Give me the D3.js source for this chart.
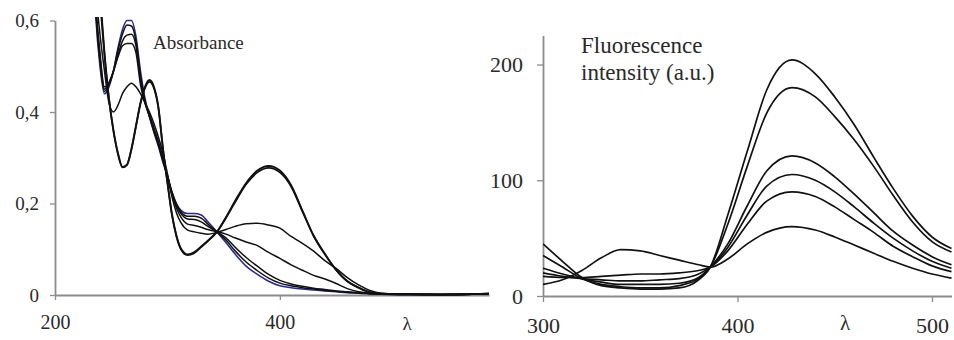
<!DOCTYPE html>
<html>
<head>
<meta charset="utf-8">
<script src="https://cdn.jsdelivr.net/npm/d3@7"></script>
<style>
body{margin:0;background:#fff;}
svg{display:block;}
text{font-family:"Times New Roman",Times,"Liberation Serif",serif;}
</style>
</head>
<body>
<svg id="canvas" width="954" height="340"></svg>
<script>
// absorbance spectra (left)
let absLam=[232,236,240,244,248,252,256,260,264,268,272,276,280,284,288,292,296,300,304,308,312,318,324,330,336,344,352,360,370,380,390,400,410,420,430,440,450,460,470,480,490,510,540,586];
let abs1=[0.85,0.62,0.50,0.44,0.455,0.49,0.54,0.58,0.60,0.60,0.565,0.49,0.43,0.39,0.355,0.325,0.29,0.26,0.225,0.20,0.185,0.178,0.178,0.175,0.16,0.138,0.115,0.09,0.063,0.045,0.03,0.02,0.016,0.013,0.011,0.009,0.007,0.005,0.004,0.003,0.002,0.001,0.001,0.003];
let abs2=[0.86,0.63,0.51,0.445,0.46,0.49,0.535,0.57,0.59,0.588,0.555,0.48,0.425,0.39,0.358,0.328,0.293,0.26,0.225,0.198,0.182,0.172,0.172,0.168,0.155,0.138,0.12,0.097,0.072,0.053,0.037,0.026,0.02,0.016,0.013,0.01,0.008,0.006,0.004,0.003,0.002,0.001,0.001,0.003];
let abs3=[0.87,0.64,0.52,0.45,0.462,0.488,0.525,0.555,0.568,0.57,0.545,0.47,0.42,0.39,0.36,0.33,0.295,0.26,0.222,0.195,0.178,0.166,0.165,0.16,0.15,0.138,0.125,0.105,0.082,0.063,0.045,0.032,0.024,0.019,0.015,0.012,0.009,0.007,0.005,0.003,0.002,0.001,0.001,0.003];
let abs4=[0.88,0.65,0.53,0.455,0.465,0.49,0.52,0.545,0.55,0.55,0.53,0.46,0.42,0.395,0.365,0.335,0.30,0.26,0.22,0.19,0.17,0.155,0.152,0.148,0.143,0.138,0.133,0.125,0.116,0.108,0.093,0.08,0.066,0.054,0.043,0.035,0.025,0.014,0.007,0.004,0.002,0.001,0.001,0.003];
let abs5=[0.9,0.68,0.57,0.49,0.42,0.40,0.415,0.44,0.455,0.463,0.455,0.44,0.42,0.40,0.375,0.345,0.31,0.265,0.215,0.18,0.158,0.142,0.138,0.135,0.133,0.137,0.143,0.15,0.156,0.157,0.153,0.146,0.128,0.113,0.096,0.075,0.058,0.038,0.022,0.01,0.004,0.002,0.001,0.003];
let abs6=[0.98,0.82,0.66,0.53,0.43,0.36,0.31,0.28,0.285,0.32,0.37,0.42,0.455,0.47,0.455,0.41,0.32,0.245,0.175,0.128,0.10,0.087,0.092,0.105,0.118,0.138,0.17,0.205,0.245,0.272,0.282,0.272,0.24,0.185,0.13,0.09,0.055,0.03,0.016,0.006,0.003,0.002,0.001,0.003];
let abs7=[0.97,0.81,0.65,0.525,0.428,0.358,0.308,0.279,0.284,0.318,0.368,0.418,0.452,0.466,0.452,0.408,0.32,0.246,0.177,0.13,0.102,0.089,0.094,0.106,0.119,0.138,0.168,0.202,0.242,0.268,0.278,0.268,0.237,0.183,0.129,0.089,0.055,0.03,0.016,0.006,0.003,0.002,0.001,0.003];
let absTicksY=[0,0.2,0.4,0.6];
let absTicksX=[200,400];

// fluorescence spectra (right)
let fluLam=[300,310,320,330,340,350,360,370,380,386,395,405,415,428,440,450,460,470,480,490,500,510];
let flu1=[45,30,16,9,7,6,6,7,14,25,70,125,178,204,192,172,148,120,93,69,51,41];
let flu2=[35,25,15,10,8,7,7,9,15,25,62,112,158,180,172,155,135,112,87,64,47,38];
let flu3=[24,19,15,12,10,10,10,11,16,25,45,78,108,121,115,103,88,72,56,44,34,27];
let flu4=[20,17,15,14,13,13,14,15,19,25,42,70,95,105,100,90,77,63,50,39,30,24];
let flu5=[17,16,16,17,18,19,19,20,22,25,39,62,82,90,86,77,66,55,43,34,26,21];
let flu6=[10,14,22,33,40,39,35,31,27,25,32,45,55,60,57,51,44,37,30,24,19,15.5];
let fluTicksY=[0,100,200];
let fluTicksX=[300,400,500];

let svg=d3.select("#canvas");
let axisCol="#8c8c8c", txtCol="#2a2a2a";
let serif="'Times New Roman', Times, 'Liberation Serif', serif";

function styleAxis(g,fs){
  g.attr("font-family",null).attr("font-size",fs);
  g.select(".domain").attr("stroke",axisCol).attr("stroke-width",1.8);
  g.selectAll(".tick line").attr("stroke",axisCol).attr("stroke-width",1.3);
  g.selectAll(".tick text").attr("fill",txtCol).style("font-family",serif).style("font-size",fs+"px");
}

// ---- left panel
let xA=d3.scaleLinear().domain([200,586]).range([55,489]);
let yA=d3.scaleLinear().domain([0,0.6]).range([295,20.5]);

svg.append("clipPath").attr("id","clipA").append("rect").attr("x",55).attr("y",17).attr("width",436).attr("height",280);

let gyA=svg.append("g").attr("transform","translate(55,0)")
  .call(d3.axisLeft(yA).tickValues(absTicksY).tickSize(5).tickSizeOuter(0).tickPadding(11).tickFormat(d=>d3.format(".1~f")(d).replace(".",",")));
styleAxis(gyA,19);
let gxA=svg.append("g").attr("transform","translate(0,295)")
  .call(d3.axisBottom(xA).tickValues(absTicksX).tickSize(5).tickSizeOuter(0).tickPadding(15));
styleAxis(gxA,20);

let lineA=d3.line().x((d,i)=>xA(absLam[i])).y(d=>yA(d)).curve(d3.curveMonotoneX);
let absSeries=[[abs1,"#2b2b8c",1.6],[abs2,"#111",1.5],[abs3,"#111",1.5],[abs4,"#111",1.5],[abs5,"#111",1.5],[abs7,"#111",1.8],[abs6,"#111",1.8]];
svg.append("g").attr("clip-path","url(#clipA)").selectAll("path").data(absSeries).enter().append("path")
  .attr("d",d=>lineA(d[0])).attr("fill","none").attr("stroke",d=>d[1]).attr("stroke-width",d=>d[2]);

svg.append("text").text("Absorbance").attr("x",153).attr("y",49).attr("fill",txtCol).style("font-size","19px");
svg.append("text").text("λ").attr("x",407).attr("y",330).attr("text-anchor","middle").attr("fill",txtCol).style("font-size","19px");

// ---- right panel
let xF=d3.scaleLinear().domain([300,510]).range([543,951.5]);
let yF=d3.scaleLinear().domain([0,225]).range([296,35.6]);

svg.append("clipPath").attr("id","clipF").append("rect").attr("x",543).attr("y",30).attr("width",411).attr("height",268);

let gyF=svg.append("g").attr("transform","translate(543,0)")
  .call(d3.axisLeft(yF).tickValues(fluTicksY).tickSize(6).tickSizeOuter(0).tickPadding(14));
styleAxis(gyF,22);
let gxF=svg.append("g").attr("transform","translate(0,296)")
  .call(d3.axisBottom(xF).tickValues(fluTicksX).tickSize(6).tickSizeOuter(0).tickPadding(15));
styleAxis(gxF,22);

let lineF=d3.line().x((d,i)=>xF(fluLam[i])).y(d=>yF(d)).curve(d3.curveMonotoneX);
svg.append("g").attr("clip-path","url(#clipF)").selectAll("path").data([flu1,flu2,flu3,flu4,flu5,flu6]).enter().append("path")
  .attr("d",d=>lineF(d)).attr("fill","none").attr("stroke","#111").attr("stroke-width",1.7);

svg.append("text").text("Fluorescence").attr("x",581).attr("y",53).attr("fill",txtCol).style("font-size","23px");
svg.append("text").text("intensity (a.u.)").attr("x",581).attr("y",80).attr("fill",txtCol).style("font-size","23px");
svg.append("text").text("λ").attr("x",845).attr("y",330).attr("text-anchor","middle").attr("fill",txtCol).style("font-size","21px");
</script>
</body>
</html>
